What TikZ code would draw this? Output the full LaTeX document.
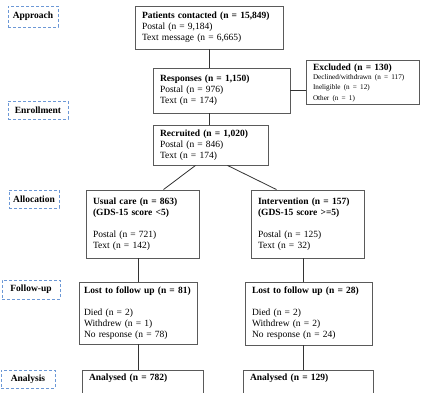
\documentclass[tikz,border=0pt]{standalone}
\usepackage{fontspec}
\setmainfont{Liberation Serif}
\definecolor{stageblue}{RGB}{108,152,214}
\definecolor{boxgray}{RGB}{90,90,90}
\tikzset{
  stagebox/.style={rectangle, draw=stageblue, dash pattern=on 3pt off 2pt,
          line width=0.9pt, inner sep=0pt, font=\fontsize{9.5}{11}\selectfont\bfseries},
  flowbox/.style={rectangle, draw=boxgray, line width=0.9pt, align=left,
          inner xsep=7pt, inner ysep=3pt, font=\fontsize{9.5}{11}\selectfont},
  flowline/.style={draw=black!80, line width=0.8pt}
}

\begin{document}
\begin{tikzpicture}[x=1pt,y=-1pt]
\path[use as bounding box] (0,0) rectangle (437,393);
\clip (0,0) rectangle (437,393);

\node[stagebox, minimum width=50pt, minimum height=21pt] (approach) at (33,16.5) {Approach};
\node[stagebox, minimum width=60pt, minimum height=18pt] (enrol) at (38,110) {Enrollment};
\node[stagebox, minimum width=50pt, minimum height=18pt] (alloc) at (34,199) {Allocation};
\node[stagebox, minimum width=58pt, minimum height=19pt] (follow) at (31,289.5) {Follow-up};
\node[stagebox, minimum width=54pt, minimum height=18pt] (analysis) at (28,379) {Analysis};

\node[flowbox, text width=134pt, minimum height=43pt] (pat) at (209,27.5)
          {\textbf{Patients contacted (n = 15,849)}\\
           Postal (n = 9,184)\\ Text message (n = 6,665)};

\node[flowbox, text width=123pt, minimum height=45pt] (resp) at (221.5,90.5)
          {\textbf{Responses (n = 1,150)}\\
           Postal (n = 976)\\ Text (n = 174)};

\node[flowbox, text width=99pt, minimum height=43pt] (exc)
          at (362.5,82.5) {\textbf{Excluded (n = 130)}\\ \fontsize{7.2}{9.5}\selectfont
           Declined/withdrawn (n = 117)\\
           Ineligible (n = 12)\\ Other (n = 1)};

\node[flowbox, text width=101pt, minimum height=40pt] (rec) at (210.5,145)
          {\textbf{Recruited (n = 1,020)}\\
           Postal (n = 846)\\ Text (n = 174)};

\node[flowbox, text width=99pt, minimum height=68pt] (usual) at (142.5,224)
          {\textbf{Usual care (n = 863)}\\ \textbf{(GDS-15 score <5)}\\[11pt]
           Postal (n = 721)\\ Text (n = 142)};

\node[flowbox, text width=99pt, minimum height=68pt] (int) at (307.5,224)
          {\textbf{Intervention (n = 157)}\\ \textbf{(GDS-15 score >=5)}\\[11pt]
           Postal (n = 125)\\ Text (n = 32)};

\node[flowbox, text width=108pt, minimum height=62pt, inner xsep=5pt] (lost1) at (138,313)
          {\textbf{Lost to follow up (n = 81)}\\[11pt]
           Died (n = 2)\\ Withdrew (n = 1)\\ No response (n = 78)};

\node[flowbox, text width=113pt, minimum height=63pt] (lost2) at (308.5,313.5)
          {\textbf{Lost to follow up (n = 28)}\\[11pt]
           Died (n = 2)\\ Withdrew (n = 2)\\ No response (n = 24)};

\node[flowbox, text width=107pt, text depth=35pt, anchor=north] (ana1) at (142.5,370)
          {\textbf{Analysed (n = 782)}};

\node[flowbox, text width=116pt, text depth=35pt, anchor=north] (ana2) at (308,370)
          {\textbf{Analysed (n = 129)}};

\draw[flowline] (pat.south) -- (pat.south |- resp.north);
\draw[flowline] (pat.south |- resp.south) -- (pat.south |- rec.north);
\draw[flowline] (resp.east) -- (resp.east -| exc.west);
\draw[flowline] ([xshift=-15pt]rec.south) -- ([xshift=21pt]usual.north);
\draw[flowline] ([xshift=17pt]rec.south) -- ([xshift=-31pt]int.north);
\draw[flowline] (lost1.north |- usual.south) -- (lost1.north);
\draw[flowline] (lost1.south) -- (lost1.south |- ana1.north);
\draw[flowline] ([xshift=-5pt]lost2.north |- int.south) -- ([xshift=-5pt]lost2.north);
\draw[flowline] ([xshift=-5pt]lost2.south) -- ([xshift=-5pt]lost2.south |- ana2.north);
\end{tikzpicture}
\end{document}
